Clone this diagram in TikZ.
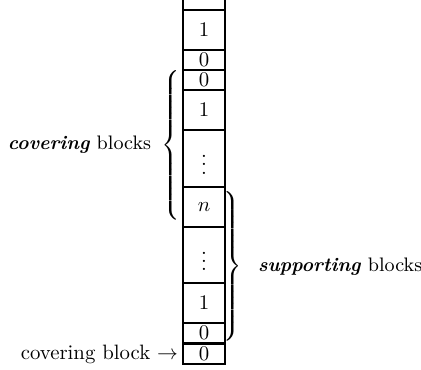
\documentclass[tikz,border=0pt]{standalone}
\begin{document}
\begin{tikzpicture}[x=0.4808pt,y=-0.4808pt,
  cell/.style={draw, line width=0.8pt, minimum width=42*0.4808pt, inner sep=0pt, outer sep=0pt},
  lbl/.style={inner sep=0pt, outer sep=0pt},
  blbl/.style={inner sep=0pt, outer sep=0pt, font=\fontsize{9.4pt}{11pt}\selectfont}]
\useasboundingbox (0,0) rectangle (421,370);
\clip (0,0) rectangle (421,370);
\delimiterfactor=1000 \delimitershortfall=0pt \nulldelimiterspace=0pt
% column of cells
\node[cell, minimum height=40*0.4808pt] (c0) at (204,-10) {};
\node[cell, minimum height=40*0.4808pt] (c1) at (204,30) {1};
\node[cell, minimum height=20*0.4808pt] (c2) at (204,60) {0};
\node[cell, minimum height=20*0.4808pt] (c3) at (204,80) {0};
\node[cell, minimum height=40*0.4808pt] (c4) at (204,110) {1};
\node[cell, minimum height=57*0.4808pt] (c5) at (204,158.5) {$\vdots$};
\node[cell, minimum height=40*0.4808pt] (c6) at (204,207) {$n$};
\node[cell, minimum height=56*0.4808pt] (c7) at (204,255) {$\vdots$};
\node[cell, minimum height=40*0.4808pt] (c8) at (204,303) {1};
\node[cell, minimum height=20*0.4808pt] (c9) at (204,333) {0};
\node[cell, minimum height=20*0.4808pt] (c10) at (204,354) {0};
% braces
\node[lbl, anchor=west] (lb) at (161,145) {$\left\{\vcenter{\hbox{\vrule height 69pt width 0pt}}\right.$};
\node[lbl, anchor=east] (rb) at (242,266.5) {$\left.\vcenter{\hbox{\vrule height 68.5pt width 0pt}}\right\}$};
% labels
\node[blbl, anchor=east] (covl) at (151,145) {\textbf{\textit{covering}} blocks};
\node[blbl, anchor=west] (supl) at (258,267) {\textbf{\textit{supporting}} blocks};
\node[lbl, anchor=east] (cb) at (178,354) {covering block $\rightarrow$};
\end{tikzpicture}
\end{document}
